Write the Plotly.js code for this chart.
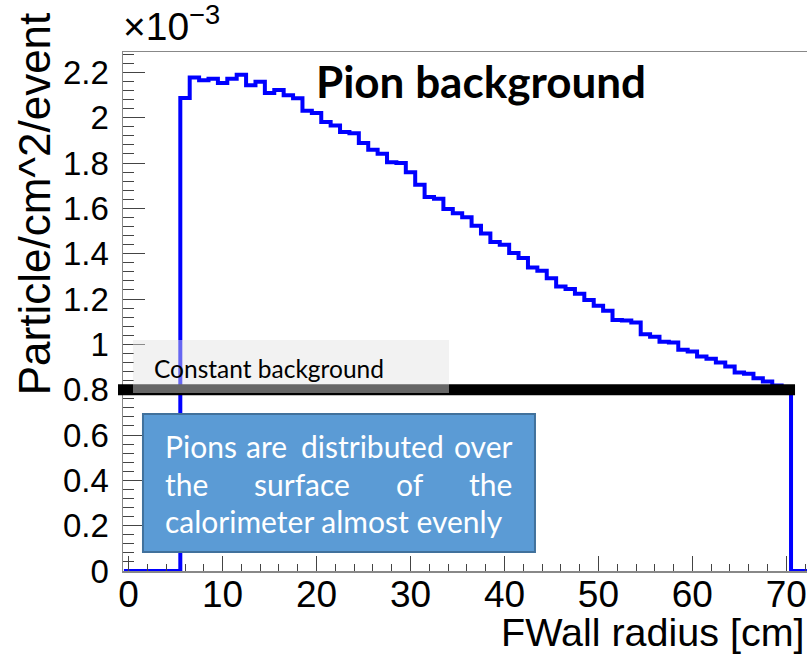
<!DOCTYPE html>
<html>
<head>
<meta charset="utf-8">
<script src="https://cdn.plot.ly/plotly-3.0.1.min.js"></script>
<style>html,body{margin:0;padding:0;background:#fff;}#chart{width:807px;height:655px;}</style>
</head>
<body>
<div id="chart"></div>
<script>
// Histogram bins: centres in cm (bin width 1 cm)
const binCenters = [0,1,2,3,4,5,6,7,8,9,10,11,12,13,14,15,16,17,18,19,20,21,22,23,24,25,26,27,28,29,30,31,32,33,34,35,36,37,38,39,40,41,42,43,44,45,46,47,48,49,50,51,52,53,54,55,56,57,58,59,60,61,62,63,64,65,66,67,68,69,70,71,72];
// Particle/cm^2/event in units of 1e-3
const pionRate = [0,0,0,0,0,0,2.087,2.178,2.165,2.172,2.153,2.172,2.190,2.143,2.159,2.109,2.122,2.099,2.086,2.031,2.021,1.981,1.966,1.937,1.932,1.888,1.859,1.841,1.803,1.800,1.759,1.704,1.650,1.642,1.597,1.579,1.561,1.523,1.489,1.452,1.439,1.403,1.381,1.339,1.325,1.292,1.255,1.244,1.223,1.196,1.170,1.148,1.108,1.105,1.096,1.045,1.034,1.012,1.008,0.976,0.968,0.946,0.936,0.920,0.902,0.876,0.870,0.851,0.836,0.818,0.806,0,0];
// Constant background level (units of 1e-3)
const constBackground = [0.8];
const binWidth = 1;

// build step line from bin edges
const stepX = binCenters.map(c => c - binWidth / 2);
stepX.push(binCenters[binCenters.length - 1] + binWidth / 2);
const stepY = pionRate.slice();
stepY.push(pionRate[pionRate.length - 1]);

const labelFont = "'Liberation Sans', Arial, sans-serif";
const boxFont = "Lato, 'Noto Sans', sans-serif";

const trace = {
  type: 'scatter', mode: 'lines',
  x: stepX, y: stepY,
  line: {color: '#0000ff', width: 4, shape: 'hv'},
  hoverinfo: 'skip', showlegend: false
};

function word(text, x, y, anchor) {
  return {text: text, xref: 'paper', yref: 'paper', x: x, y: y, xanchor: anchor, yanchor: 'middle',
    showarrow: false, borderpad: 0, font: {family: boxFont, size: 30, color: '#ffffff'}};
}

const annotations = [
  {text: '×10<sup>−3</sup>', xref: 'paper', yref: 'paper', x: -0.002, y: 1.005, xanchor: 'left', yanchor: 'bottom',
   showarrow: false, borderpad: 0, font: {family: labelFont, size: 39, color: '#000'}},
  {text: 'Particle/cm^2/event', xref: 'paper', yref: 'paper', x: -0.129, y: 1.079, xanchor: 'center', yanchor: 'top',
   textangle: -90, showarrow: false, borderpad: 0, font: {family: labelFont, size: 44, color: '#000'}},
  {text: 'FWall radius [cm]', xref: 'paper', yref: 'paper', x: 0.998, y: -0.118, xanchor: 'right', yanchor: 'middle',
   showarrow: false, borderpad: 0, font: {family: labelFont, size: 39.5, color: '#000'}},
  {text: '<b>Pion background</b>', xref: 'paper', yref: 'paper', x: 0.524, y: 0.944, xanchor: 'center', yanchor: 'middle',
   showarrow: false, borderpad: 0, font: {family: boxFont, size: 44, color: '#000'}},
  {text: 'Constant background', xref: 'paper', yref: 'paper', x: 0.0434, y: 0.391, xanchor: 'left', yanchor: 'middle',
   showarrow: false, borderpad: 0, font: {family: boxFont, size: 24.5, color: '#000'}},
  word('Pions', 0.0604, 0.2408, 'left'),
  word('are', 0.2105, 0.2408, 'center'),
  word('distributed', 0.3643, 0.2408, 'center'),
  word('over', 0.5706, 0.2408, 'right'),
  word('the', 0.0599, 0.1676, 'left'),
  word('surface', 0.261, 0.1676, 'center'),
  word('of', 0.4191, 0.1676, 'center'),
  word('the', 0.5706, 0.1676, 'right'),
  word('calorimeter almost evenly', 0.0599, 0.0963, 'left')
];

const shapes = [
  {type: 'line', xref: 'paper', yref: 'y', x0: -0.0073, x1: 0.9825, y0: constBackground[0], y1: constBackground[0],
   line: {color: '#000000', width: 11}, layer: 'above'},
  {type: 'rect', xref: 'paper', yref: 'paper', x0: 0.0146, x1: 0.4766, y0: 0.343, y1: 0.445,
   fillcolor: 'rgba(226,226,226,0.45)', line: {width: 0}, layer: 'above'},
  {type: 'rect', xref: 'paper', yref: 'paper', x0: 0.0292, x1: 0.6023, y0: 0.0366, y1: 0.3025,
   fillcolor: '#5b9bd5', line: {color: '#41719c', width: 2}, layer: 'above'}
];

const layout = {
  width: 807, height: 655,
  margin: {l: 123, r: 0, t: 52, b: 84, pad: 0},
  paper_bgcolor: '#ffffff', plot_bgcolor: '#ffffff',
  showlegend: false,
  xaxis: {
    range: [-0.6, 72.2], tick0: 0, dtick: 10, ticks: 'inside', ticklen: 15, tickwidth: 1, tickcolor: '#444',
    minor: {dtick: 2, ticks: 'inside', ticklen: 7, tickwidth: 1, tickcolor: '#444'},
    showline: true, linecolor: '#888', linewidth: 1.5, mirror: true,
    showgrid: false, zeroline: false,
    tickfont: {family: labelFont, size: 37, color: '#000'}, ticklabelstandoff: -10,
    ticklabeloverflow: 'allow'
  },
  yaxis: {
    range: [0, 2.29], tick0: 0, dtick: 0.2, ticks: 'inside', ticklen: 22, tickwidth: 1, tickcolor: '#444',
    minor: {dtick: 0.04, ticks: 'inside', ticklen: 11, tickwidth: 1, tickcolor: '#444'},
    showline: true, linecolor: '#888', linewidth: 1.5,
    showgrid: false, zeroline: false,
    tickfont: {family: labelFont, size: 33, color: '#000'}, ticklabelstandoff: 6
  },
  annotations: annotations,
  shapes: shapes
};

Plotly.newPlot('chart', [trace], layout, {staticPlot: true, displayModeBar: false});
</script>
</body>
</html>
